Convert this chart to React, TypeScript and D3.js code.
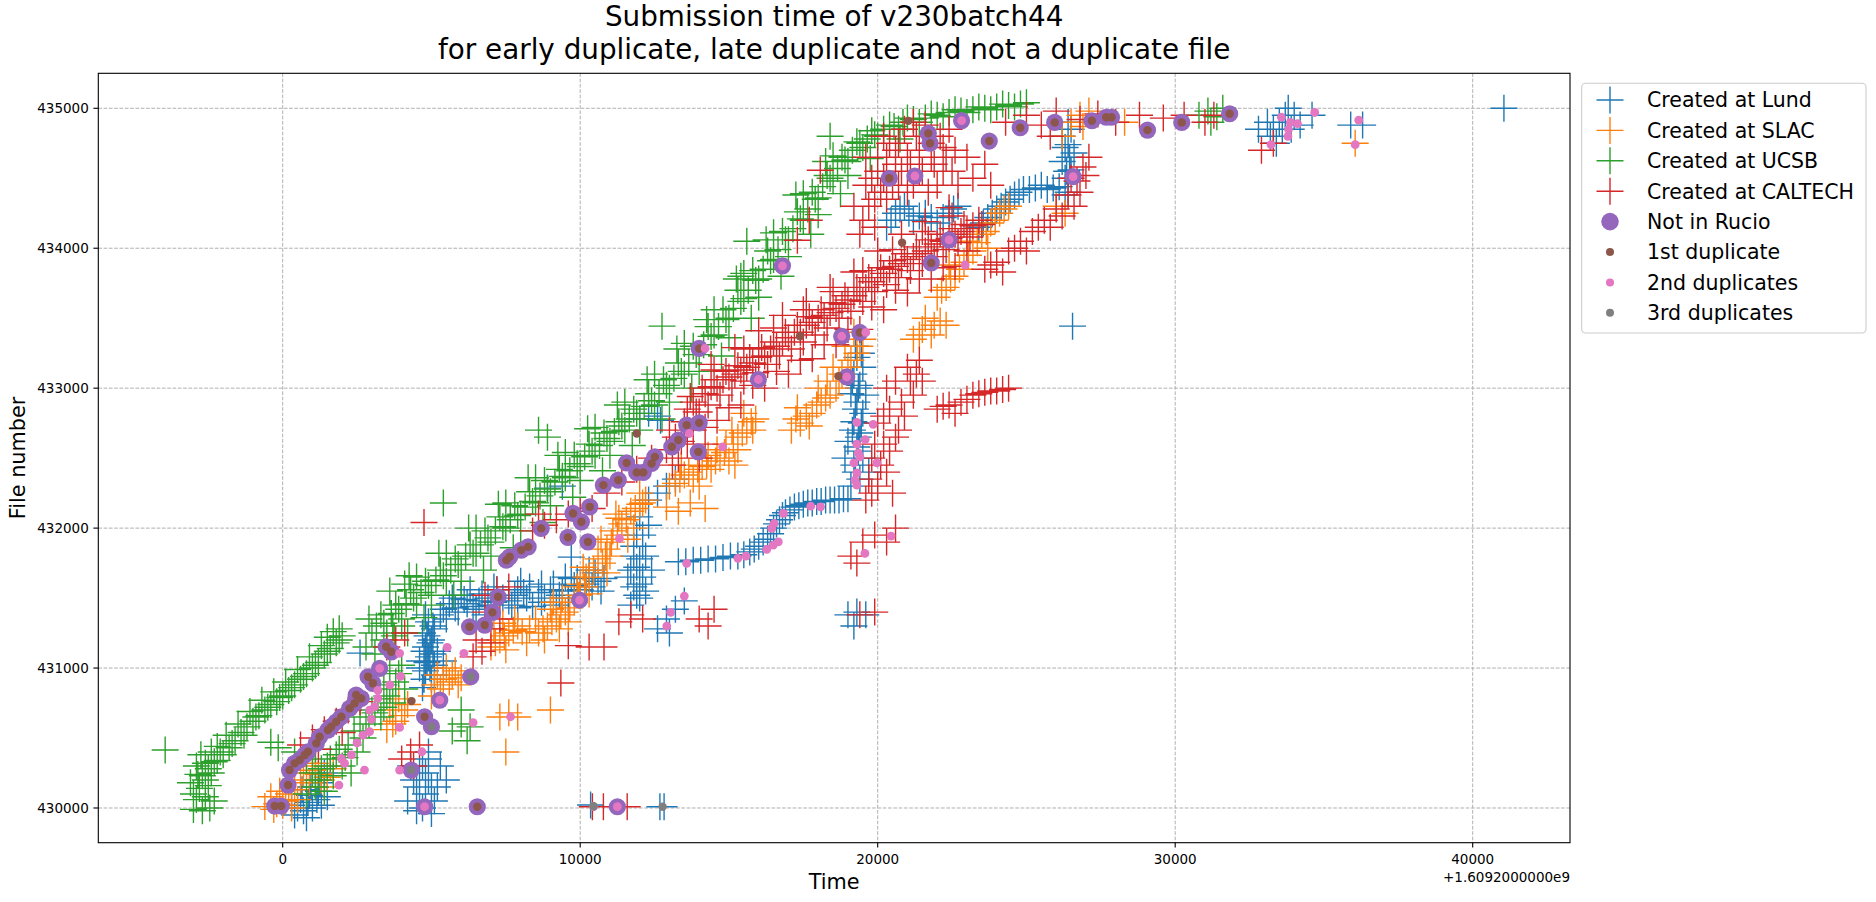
import React from 'react';
import * as d3 from 'd3';

type Pt = [number, number];

// time is seconds after 1.6092e9, second value is the file number
const lundPts: Pt[] = [
  [400, 429950], [700, 429980], [1000, 430000], [1300, 430020], [600, 430060], [900, 430090], [1200, 430120],
  [1500, 430080], [1100, 430200], [1400, 430250], [800, 429930], [300, 430020],
  [500, 430000], [850, 430040], [1150, 430060], [650, 430130], [950, 430150], [1250, 430180],
  [4200, 430050], [4500, 430150], [4300, 430300], [4600, 430250], [4900, 430200], [4800, 430100], [5100, 430050],
  [4700, 430000], [5000, 429960], [4400, 430200], [5300, 430300], [4900, 430350], [5500, 430200],
  [4600, 430050], [4800, 430250], [5000, 430150], [4700, 430300], [5200, 430150], [4500, 429980], [4900, 430400],
  [4700, 430860], [5000, 430920], [4800, 430980], [5100, 431020], [4600, 431050], [4900, 431080], [5200, 431120],
  [4800, 431150], [5000, 431200], [4700, 431250], [5100, 431280], [4900, 431330], [5300, 431380], [4600, 431000],
  [5400, 431050],
  [4750, 430920], [4950, 431000], [4850, 431040], [5050, 431100], [4750, 431120], [4950, 431180], [4850, 431230],
  [5050, 431300], [4800, 431380], [5100, 430950],
  [5400, 431420], [5800, 431430], [6200, 431460], [6600, 431480], [7000, 431450], [7400, 431500], [7800, 431520],
  [8200, 431500], [8600, 431540], [9000, 431560], [9400, 431550], [9800, 431590], [10200, 431600], [10600, 431620],
  [6000, 431520], [7200, 431560], [8400, 431440], [9600, 431500],
  [5600, 431460], [5900, 431400], [6100, 431490], [6400, 431440], [6700, 431530], [6900, 431500], [7100, 431470],
  [7600, 431480], [7900, 431560], [8100, 431540], [8300, 431580], [8800, 431500], [9100, 431600], [9300, 431520],
  [9700, 431640], [10000, 431560], [10400, 431580], [10800, 431640], [10500, 431680], [5700, 431500], [6500, 431420],
  [7700, 431450], [8700, 431600], [9900, 431640],
  [5500, 431350], [6300, 431560], [7100, 431580], [7900, 431430], [8700, 431470], [9500, 431650], [10300, 431700],
  [10700, 431550], [6800, 431380], [8000, 431620], [9200, 431450],
  [11700, 431450], [12000, 431500], [11800, 431580], [12100, 431650], [11900, 431720], [12200, 431800], [11800, 431870],
  [12100, 431950], [12300, 432020], [11600, 431650], [12400, 431700],
  [11900, 431520], [12000, 431600], [11700, 431700], [12000, 431780], [12100, 431870], [11900, 431950], [12200, 431550],
  [11800, 431800], [12000, 432080],
  [12300, 432200], [12600, 432250], [12900, 432300], [13200, 432350],
  [12000, 432780], [12300, 432820], [12600, 432800],
  [12600, 431280], [12900, 431350], [13200, 431420], [13500, 431480], [13000, 431250],
  [13300, 431760], [13800, 431770], [14300, 431780], [14800, 431790], [15300, 431800],
  [13550, 431760], [14050, 431770], [14550, 431780], [15050, 431800], [15500, 431810],
  [15700, 431830], [16000, 431870], [16300, 431920], [16500, 432000], [16700, 432060], [16900, 432110], [17200, 432150],
  [17500, 432170], [17800, 432180], [18100, 432190], [18400, 432200], [18700, 432200], [19000, 432210],
  [15850, 431850], [16150, 431900], [16400, 431960], [16600, 432030], [16800, 432090], [17050, 432130], [17350, 432160],
  [17650, 432180], [17950, 432190], [18250, 432200], [18550, 432200], [18850, 432210],
  [19100, 432300], [19400, 432350], [19200, 432450], [19500, 432500], [19300, 432580], [19000, 432620], [19400, 432680],
  [19200, 432760], [19500, 432820], [19300, 432900], [19100, 432960], [19400, 433020], [19200, 433100], [19500, 433150],
  [19300, 433220], [18900, 432500], [19700, 432400], [19600, 432950],
  [19250, 432400], [19350, 432550], [19150, 432700], [19450, 432750], [19250, 432850], [19350, 433000], [19150, 433050],
  [19450, 433250], [19250, 433300], [19350, 432650],
  [19000, 431380], [19300, 431400], [19600, 431380], [19200, 431300],
  [20300, 434150], [20600, 434250], [20900, 434300], [21200, 434200], [21600, 434250], [22000, 434180], [22400, 434250],
  [22700, 434300],
  [20450, 434200], [20750, 434280], [21050, 434250], [21400, 434230], [21800, 434220], [22200, 434220], [22550, 434280],
  [23400, 434150], [23700, 434220], [24000, 434280], [24300, 434330], [24600, 434380], [24900, 434420], [25300, 434430],
  [25700, 434420], [26100, 434440], [26400, 434400],
  [23550, 434180], [23850, 434250], [24150, 434300], [24450, 434350], [24750, 434400], [25100, 434420], [25500, 434450],
  [25900, 434430],
  [26300, 434500], [26500, 434560], [26200, 434620], [26600, 434680], [26400, 434740], [26200, 434800], [26500, 434850],
  [26350, 434550], [26450, 434650], [26300, 434720], [26400, 434900], [26300, 434380],
  [32800, 434850], [33200, 434800], [33500, 434900], [33700, 434950], [33900, 434850], [34200, 434880], [33400, 434750],
  [34600, 434950], [33800, 435000], [35900, 434880], [36300, 434880], [41050, 435000],
  [33300, 434850], [33600, 434850], [34000, 434950], [33100, 434900],
  [26550, 433443], [2600, 431107], [9700, 431793], [9400, 432300], [12700, 432771], [8900, 432286],
  [10350, 430021], [12680, 430009], [12820, 430009],
];

const slacPts: Pt[] = [
  [-600, 430010], [-300, 429990], [0, 430020], [300, 430000], [-400, 430080], [200, 430100], [500, 430060], [-100, 430120],
  [100, 430050], [-200, 430030], [400, 430130], [700, 430250], [1000, 430270], [1300, 430200], [1600, 430300],
  [600, 430200], [900, 430180], [1200, 430240], [800, 430300], [1500, 430220], [1100, 430320], [1700, 430280], [1400, 430150],
  [3500, 430560], [3800, 430620], [3600, 430700], [4000, 430660], [4200, 430740], [3900, 430780],
  [3700, 430600], [4100, 430700], [3800, 430700],
  [5000, 430800], [5300, 430850], [5600, 430900], [5200, 430950], [5800, 430980], [5500, 431000], [6000, 430930],
  [5100, 430880], [5400, 430920], [5700, 430950], [5900, 430880],
  [7000, 431150], [7300, 431200], [7600, 431250], [7400, 431320], [7900, 431300],
  [8600, 431250], [8900, 431300], [9200, 431350], [9000, 431420], [9500, 431400], [9800, 431470], [9400, 431500],
  [10000, 431600], [10300, 431650], [10100, 431720], [10600, 431780], [10900, 431850], [10700, 431920], [11100, 431980],
  [11400, 432030], [11200, 432100], [11700, 432120], [12000, 432170], [12200, 432200],
  [7150, 431180], [7450, 431230], [7750, 431270], [8050, 431260], [8300, 431280], [8750, 431280], [9050, 431330],
  [9350, 431380], [9650, 431430], [9950, 431520], [10150, 431580], [10450, 431700], [10750, 431750], [10850, 431800],
  [11050, 431900], [11250, 431950], [11550, 432060], [11850, 432140], [12100, 432180], [9300, 431280], [10200, 431650],
  [11000, 431800],
  [7100, 431280], [7500, 431130], [7800, 431350], [8200, 431180], [8500, 431350], [8800, 431200], [9100, 431470],
  [9600, 431330], [9900, 431580], [10300, 431530], [10600, 431850], [10900, 431680], [11300, 432070], [11600, 431920],
  [12000, 432250], [11800, 432000],
  [12900, 432150], [13300, 432120], [13700, 432180], [14200, 432140],
  [13200, 432320], [13500, 432380], [13800, 432350], [14100, 432440], [14400, 432420], [14700, 432500], [15000, 432480],
  [15300, 432560], [14900, 432600], [15300, 432650], [15600, 432700], [15900, 432780], [15500, 432820],
  [13350, 432350], [13650, 432400], [13950, 432420], [14250, 432450], [14550, 432480], [14850, 432540], [15150, 432600],
  [15450, 432680], [15750, 432760], [15100, 432700], [13000, 432300],
  [13400, 432450], [14000, 432300], [14600, 432560], [15200, 432450], [15800, 432700], [14300, 432520],
  [17100, 432700], [17400, 432750], [17800, 432820], [17300, 432860], [18100, 432900], [18400, 432950], [18000, 433000],
  [18700, 433050], [18500, 433150], [19000, 433150], [19300, 433250], [18900, 433300], [19500, 433350], [19200, 433400],
  [17250, 432780], [17600, 432800], [17950, 432880], [18250, 432930], [18600, 433000], [18800, 433100], [19100, 433200],
  [19400, 433300], [18300, 433050], [17700, 432730],
  [21200, 433350], [21500, 433420], [21800, 433380], [22100, 433480], [21600, 433500], [22300, 433450],
  [21400, 433380], [21900, 433450],
  [22000, 433650], [22300, 433720], [22600, 433800], [22400, 433880], [22900, 433900], [23200, 433980], [23000, 434050],
  [23500, 434100], [23800, 434180], [24100, 434250], [24400, 434300], [23700, 434000],
  [22150, 433700], [22450, 433780], [22750, 433850], [23050, 433950], [23350, 434040], [23650, 434120], [23950, 434200],
  [24250, 434280],
  [26000, 434300], [26300, 434250], [26200, 434800], [26500, 434900], [26800, 434950], [27100, 434980], [26900, 434870],
  [28300, 434900],
  [36050, 434750], [7300, 430650], [7600, 430680], [7900, 430650], [7500, 430400], [9000, 430700],
];

const ucsbPts: Pt[] = [
  [-3000, 429990], [-2700, 429980], [-2450, 430000], [-2900, 430060], [-2600, 430080], [-2300, 430050], [-2800, 430140],
  [-2500, 430160], [-3100, 430180], [-2700, 430230], [-2400, 430250], [-2900, 430300], [-2600, 430320], [-2200, 430340],
  [-2750, 430380], [-2400, 430400],
  [-2500, 430280], [-3000, 430100], [-2600, 430200], [-2850, 430240],
  [-2300, 430330], [-2000, 430380], [-2200, 430440], [-1800, 430430], [-1600, 430480], [-1900, 430520], [-1400, 430540],
  [-1200, 430580], [-1500, 430600], [-1000, 430620], [-800, 430660], [-1100, 430690], [-600, 430700], [-400, 430740],
  [-700, 430770], [-200, 430760], [0, 430800], [-300, 430830], [200, 430840], [400, 430880], [100, 430900], [600, 430920],
  [800, 430960], [500, 430990], [1000, 431000], [1200, 431040], [900, 431080], [1400, 431100], [1600, 431140],
  [1300, 431160], [1800, 431180], [1500, 431220], [2000, 431230], [1700, 431260], [1900, 431280],
  [-2100, 430400], [-1700, 430460], [-1300, 430520], [-900, 430650], [-500, 430720], [-100, 430790], [300, 430860],
  [700, 430940], [1100, 431020], [1500, 431120], [1900, 431200],
  [800, 430100], [1100, 430150], [1400, 430120], [1000, 430250], [1300, 430280], [1700, 430230], [1600, 430350],
  [2000, 430300], [2300, 430250], [1900, 430420], [2200, 430450], [2500, 430400], [2400, 430550], [2700, 430500],
  [2900, 430600], [2600, 430650], [3000, 430700], [3300, 430650], [3200, 430780], [3500, 430800], [3700, 430750],
  [3400, 430880], [3800, 430900], [4100, 430850], [3600, 430980], [4000, 431020],
  [1200, 430200], [1500, 430300], [1800, 430380], [2100, 430360], [2600, 430550], [2800, 430600], [3100, 430680],
  [3400, 430720], [3600, 430850], [3900, 430960],
  [400, 430400], [800, 430350], [1100, 430420], [-150, 430430], [-400, 430470],
  [5700, 430550], [6000, 430600], [6300, 430580], [6000, 430700], [6200, 430480],
  [2800, 431150], [3100, 431100], [3400, 431200], [3700, 431300], [4200, 431250], [2900, 431350], [3600, 431550],
  [4100, 431600],
  [3000, 431250], [3300, 431380], [3500, 431250], [3800, 431450], [4000, 431350], [4300, 431560], [4500, 431450],
  [4800, 431620], [5000, 431520], [5300, 431700], [5500, 431620], [5800, 431780], [6000, 431700], [6300, 431880],
  [6500, 431820], [6800, 431980], [7000, 431900], [7300, 432080], [7500, 432000], [7800, 432160], [8000, 432100],
  [8300, 432260], [8500, 432180], [8800, 432340], [9000, 432260], [9300, 432420], [9500, 432360], [9800, 432520],
  [10000, 432440], [10300, 432600], [10500, 432520], [10800, 432680], [11000, 432620], [11300, 432760], [11500, 432700],
  [11800, 432850], [12000, 432780], [12300, 432960], [12500, 432880], [12800, 433060], [13000, 433000], [13300, 433180],
  [13500, 433100], [13800, 433300], [14000, 433240], [14300, 433440], [14500, 433380], [14800, 433560], [15000, 433500],
  [15300, 433700], [15500, 433640], [15800, 433840], [16000, 433780], [16300, 433980], [16500, 433920], [16800, 434120],
  [17000, 434060], [17300, 434260], [17500, 434200], [17800, 434400], [18000, 434360], [18300, 434520], [18500, 434480],
  [18800, 434650], [19000, 434620], [19300, 434760], [19500, 434720], [19800, 434840], [20000, 434800], [20400, 434880],
  [20700, 434850], [21000, 434930], [21400, 434900], [21800, 434960], [22200, 434940], [22600, 434990], [23000, 434970],
  [23400, 435010], [23800, 434990], [24200, 435030], [24600, 435010], [25000, 435040],
  [3150, 431300], [3400, 431320], [3650, 431390], [3900, 431420], [4150, 431460], [4400, 431500], [4650, 431540],
  [4900, 431590], [5150, 431630], [5400, 431660], [5650, 431700], [5900, 431740], [6150, 431800], [6400, 431820],
  [6650, 431880], [6900, 431930], [7150, 431980], [7400, 432010], [7650, 432060], [7900, 432090], [8150, 432150],
  [8400, 432190], [8650, 432230], [8900, 432280], [9150, 432330], [9400, 432370], [9650, 432410], [9900, 432460],
  [10150, 432510], [10400, 432550], [10650, 432590], [10900, 432640], [11150, 432690], [11400, 432730], [11650, 432780],
  [11900, 432820], [12150, 432870], [12400, 432910], [12650, 432960], [12900, 433020], [13150, 433070], [13400, 433120],
  [13650, 433180], [13900, 433240], [14150, 433310], [14400, 433370], [14650, 433440], [14900, 433490], [15150, 433570],
  [15400, 433620], [15650, 433700], [15900, 433770], [16150, 433850], [16400, 433910], [16650, 433990], [16900, 434060],
  [17150, 434140], [17400, 434210], [17650, 434280], [17900, 434350], [18150, 434440], [18400, 434500], [18650, 434570],
  [18900, 434630], [19150, 434700], [19400, 434750], [19650, 434780], [19900, 434810], [20200, 434850], [20550, 434870],
  [20850, 434900], [21200, 434920], [21600, 434930], [22000, 434950], [22400, 434970], [22800, 434980], [23200, 434990],
  [23600, 435000], [24000, 435010], [24400, 435020], [24800, 435030],
  [4000, 431300], [5000, 431450], [6000, 431620], [7000, 431800], [8000, 431980], [9000, 432160], [10000, 432340],
  [11000, 432520], [12000, 432700], [13000, 432900], [14000, 433120], [15000, 433360], [16000, 433650], [17000, 433940],
  [18000, 434240], [19000, 434520],
  [4500, 431650], [5500, 431820], [6500, 432000], [7500, 432180], [8500, 432360], [9500, 432540], [10500, 432720],
  [11500, 432900], [12500, 433100], [13500, 433320], [14500, 433560], [15500, 433820], [16500, 434110], [17500, 434390],
  [18500, 434660],
  [4250, 431660], [5250, 431820], [6250, 432000], [7250, 432170], [8250, 432360], [9250, 432520], [10250, 432710],
  [11250, 432880], [12250, 433060], [13250, 433280], [14250, 433490], [15250, 433780], [16250, 434060], [17250, 434380],
  [18250, 434620],
  [3750, 431230], [4750, 431360], [5750, 431520], [6750, 431700], [7750, 431860], [8750, 432040], [9750, 432220],
  [10750, 432410], [11750, 432590], [12750, 432780], [13750, 433000], [14750, 433230], [15750, 433500], [16750, 433800],
  [17750, 434100], [18750, 434390], [19750, 434640], [20750, 434780],
  [-3950, 430414], [5400, 432179], [8600, 432700], [8900, 432650], [12750, 433443], [15400, 433800], [15600, 434050],
  [18400, 434800],
  [30800, 434950], [31100, 434980], [31400, 434940], [31200, 434900], [31600, 435000],
];

const caltechPts: Pt[] = [
  [600, 430450], [1000, 430500], [1400, 430560], [1800, 430620], [2200, 430700], [2600, 430760], [1200, 430420],
  [2000, 430540],
  [4000, 430350], [4300, 430400], [4600, 430450], [4400, 430300],
  [3500, 431150], [3800, 431200], [4100, 431250],
  [6400, 431080], [6700, 431120], [7000, 431180], [6500, 431200], [7000, 431280], [7300, 431350], [6800, 431400],
  [6800, 431520], [7200, 431560], [7600, 431580],
  [8400, 431980], [8800, 432020], [9200, 432060], [9600, 432100], [10000, 432120], [10400, 432140], [8600, 432100],
  [9350, 430893], [9600, 431160], [10300, 431150], [10800, 431150], [10410, 430009], [10780, 430009], [11580, 430009],
  [4750, 432040], [11300, 431330], [11700, 431380], [12100, 431350], [14000, 431350], [14500, 431420], [14300, 431300],
  [10900, 432250], [11400, 432330], [11900, 432420], [12400, 432500], [12900, 432560], [13400, 432620], [13800, 432700],
  [13300, 432500], [14200, 432600],
  [13000, 432700], [13200, 432650], [13600, 432600], [14000, 432500], [13100, 432450],
  [13500, 432760], [13700, 432940], [13900, 432830], [14100, 433000], [14300, 432880], [14500, 433060], [14700, 432950],
  [14900, 433120], [15100, 433000], [15300, 433160], [15500, 433050], [15700, 433220], [15900, 433110], [16100, 433290],
  [16300, 433170], [16500, 433330], [16700, 433230], [16900, 433400], [17100, 433280], [17300, 433450], [17500, 433330],
  [17700, 433510], [17900, 433380], [18100, 433560], [18300, 433430], [18500, 433610], [18700, 433500], [18900, 433660],
  [19100, 433550], [19300, 433720], [19500, 433620], [19700, 433790], [19900, 433690], [20100, 433860], [20300, 433740],
  [20500, 433910], [20700, 433790], [20900, 433960], [21100, 433840], [21300, 434010], [21500, 433890], [21700, 434060],
  [21900, 433940], [22100, 434100], [22300, 433990], [22500, 434140], [22700, 434040], [22900, 434170], [23100, 434080],
  [23400, 434200],
  [13600, 432850], [13800, 432900], [14000, 432830], [14200, 432960], [14400, 433010], [14600, 433000], [14800, 433060],
  [15000, 433080], [15200, 433100], [15400, 433130], [15600, 433150], [15800, 433180], [16000, 433220], [16200, 433230],
  [16400, 433280], [16600, 433300], [16800, 433330], [17000, 433360], [17200, 433400], [17400, 433400], [17600, 433450],
  [17800, 433470], [18000, 433500], [18200, 433520], [18400, 433540], [18600, 433570], [18800, 433600], [19000, 433630],
  [19200, 433660], [19400, 433690], [19600, 433720], [19800, 433760], [20000, 433790], [20200, 433820], [20400, 433850],
  [20600, 433870], [20800, 433890], [21000, 433920], [21200, 433940], [21400, 433960], [21600, 433980], [21800, 434010],
  [22000, 434030], [22200, 434050], [22400, 434070], [22600, 434100], [22800, 434120], [23000, 434140], [23200, 434160],
  [23500, 434170],
  [14500, 433130], [15500, 433280], [16500, 433430], [17500, 433560], [18500, 433690], [19500, 433840], [20500, 433990],
  [21500, 434120], [22500, 434230],
  [14200, 432720], [15000, 432860], [15800, 433020], [16600, 433120], [17400, 433200], [18200, 433310], [19000, 433420],
  [19800, 433580], [20600, 433700], [21400, 433780], [22200, 433860], [23000, 433980],
  [14400, 433170], [15200, 433290], [16000, 433410], [16800, 433520], [17600, 433620], [18400, 433720], [19200, 433830],
  [20000, 433980], [20800, 434100], [21600, 434190], [22400, 434290],
  [14600, 432770], [15400, 432880], [16200, 433000], [17000, 433100], [17800, 433210], [18600, 433310], [19400, 433420],
  [20200, 433560], [21000, 433680], [21800, 433780], [22600, 433870],
  [19500, 434200], [19900, 434350], [20200, 434500], [20600, 434600], [21000, 434650], [21400, 434700], [21800, 434650],
  [22200, 434720], [20000, 434650], [20400, 434750], [19800, 434500], [21200, 434450], [22000, 434450], [22500, 434550],
  [20900, 434850], [21600, 434880], [23200, 434500], [23600, 434600], [23800, 434450],
  [19700, 434300], [20100, 434400], [20500, 434450], [20800, 434550], [21100, 434600], [21500, 434550], [21900, 434600],
  [22300, 434650], [20300, 434650], [20700, 434750], [21300, 434800], [22100, 434800], [19400, 434100], [19900, 434150],
  [20700, 434450], [22700, 434450], [23000, 434650], [21700, 434400],
  [19200, 434300], [19600, 434450], [20000, 434550], [20300, 434350], [20600, 434700], [21000, 434400], [21400, 434550],
  [21800, 434750], [22200, 434550], [22600, 434700], [19600, 434650], [20200, 434800], [21200, 434900], [22400, 434850],
  [18070, 434557], [17300, 434057], [17700, 434200],
  [24300, 434900], [25000, 434950], [25500, 434880], [26000, 434980], [26800, 434920], [27400, 434960], [28000, 434900],
  [28800, 434950], [29600, 434930], [30300, 434950], [31000, 434900], [31300, 434950], [25800, 434800],
  [32900, 434700], [33300, 434750],
  [23600, 433850], [24000, 433900], [24400, 433980], [24800, 434050], [25200, 434120], [25600, 434200], [26000, 434280],
  [26400, 434380], [26700, 434480], [26900, 434580], [27100, 434650], [24200, 433830], [25000, 433980], [25800, 434150],
  [26600, 434300],
  [23800, 433880], [24600, 434000], [25400, 434150], [26200, 434230], [26800, 434400], [27000, 434520], [26500, 434500],
  [22000, 432850], [22400, 432880], [22800, 432900], [23200, 432950], [23600, 432970], [24000, 432980], [24400, 433000],
  [22600, 432820], [22200, 432870], [23000, 432920], [23400, 432960], [23800, 432980], [24200, 432990],
  [19600, 432200], [20000, 432300], [20300, 432400], [19800, 432500], [20200, 432600], [20600, 432650], [20000, 432750],
  [20400, 432850], [20800, 432900], [21200, 432950], [20600, 433050], [21000, 433150], [21400, 433200], [19700, 432350],
  [20500, 432250], [21500, 433050],
  [19800, 432250], [20100, 432450], [20400, 432550], [20700, 432700], [20200, 432800], [20900, 432800], [21100, 433050],
  [20300, 433000], [19900, 432600], [21300, 433100],
  [19100, 431800], [19500, 431900], [19900, 431950], [20300, 431900], [19300, 431750], [20600, 432000],
  [19400, 431380], [19900, 431400],
];

const notInRucio: Pt[] = [
  [-270, 430014], [-50, 430014], [180, 430164], [230, 430271], [400, 430319], [570, 430343], [740, 430379], [850, 430402],
  [1130, 430462], [1240, 430509], [1520, 430557], [1630, 430581], [1800, 430616], [1970, 430652], [2250, 430712],
  [2420, 430748], [2470, 430807], [2640, 430783], [2870, 430938], [3030, 430891], [3260, 430998], [3480, 431152],
  [3650, 431116], [4320, 430271], [4770, 430652], [5000, 430581], [5280, 430771], [4770, 430009], [6540, 430009],
  [6320, 430938], [6280, 431295], [6790, 431307], [7050, 431398], [7240, 431509], [7520, 431771], [7630, 431795],
  [8020, 431843], [8250, 431866], [8690, 431998], [9590, 431934], [9760, 432105], [10040, 432045], [10320, 432152],
  [10260, 431902], [9980, 431486], [10780, 432307], [11280, 432343], [11560, 432466], [11900, 432398], [12120, 432398],
  [12400, 432462], [12510, 432509], [13080, 432581], [13300, 432629], [13580, 432736], [14000, 432752], [13970, 432545],
  [14000, 433284], [15990, 433062], [18790, 433371], [19400, 433398], [18960, 433080], [16800, 433874], [20390, 434500],
  [21250, 434516], [21700, 434821], [21760, 434750], [22820, 434912], [23750, 434766], [22400, 434060], [21800, 433895],
  [24790, 434861], [25950, 434899], [27200, 434911], [27680, 434936], [27860, 434936], [29070, 434844], [30220, 434899],
  [31830, 434961], [26570, 434511], [11250, 430009],
];

const firstDup: Pt[] = [
  [-270, 430014], [-50, 430014], [180, 430164], [230, 430271], [400, 430319], [570, 430343], [740, 430379], [850, 430402],
  [1130, 430462], [1240, 430509], [1520, 430557], [1630, 430581], [1800, 430616], [1970, 430652], [2250, 430712],
  [2420, 430748], [2470, 430807], [2640, 430783], [2870, 430938], [3030, 430891], [3480, 431152], [3650, 431116],
  [4770, 430652], [6540, 430009], [6280, 431295], [6790, 431307], [7050, 431398], [7240, 431509], [7520, 431771],
  [7630, 431795], [8020, 431843], [8250, 431866], [8690, 431998], [9590, 431934], [9760, 432105], [10040, 432045],
  [10320, 432152], [10260, 431902], [10780, 432307], [11280, 432343], [11560, 432466], [11900, 432398], [12120, 432398],
  [12400, 432462], [12510, 432509], [13080, 432581], [13300, 432629], [13580, 432736], [14000, 432752], [13970, 432545],
  [14000, 433284], [19400, 433398], [20390, 434500], [21700, 434821], [21760, 434750], [23750, 434766], [21800, 433895],
  [24790, 434861], [25950, 434899], [27200, 434911], [27680, 434936], [27860, 434936], [29070, 434844], [30220, 434899],
  [31830, 434961],
  [4330, 430764], [11900, 432676], [17390, 433371], [18680, 433086], [21030, 434910], [20820, 434040],
];

const secondDup: Pt[] = [
  [3260, 430998], [5280, 430771], [4770, 430009], [9980, 431486], [15990, 433062], [18790, 433371], [18960, 433080],
  [16800, 433874], [21250, 434516], [22820, 434912], [22400, 434060], [26570, 434511], [11250, 430009],
  [14200, 433284], [19600, 433398],
  [3930, 431105], [3960, 430940], [3600, 430880], [3200, 430840], [3200, 430783], [3090, 430724], [2920, 430700],
  [2980, 430634], [2920, 430545], [2700, 430520], [2500, 430466], [2310, 430379], [1970, 430355], [2080, 430319],
  [2750, 430271], [1890, 430164], [3930, 430271], [3930, 430576], [4680, 430402], [5530, 431148], [6090, 431105],
  [6400, 430610], [7660, 430652], [11320, 431926], [14790, 432581], [13670, 432676], [13580, 431748], [15300, 431784],
  [15570, 431800], [16270, 431848], [16490, 431879], [16660, 431902], [16440, 431998], [16520, 432033], [16830, 432105],
  [17750, 432157], [18080, 432152], [13500, 431514], [13040, 431398], [12910, 431300], [19300, 432755], [19850, 432741],
  [19300, 432600], [19580, 432633], [19350, 432538], [19400, 432509], [19200, 432466], [19970, 432466], [19300, 432395],
  [19240, 432343], [19300, 432307], [19570, 431819], [20450, 431943], [22940, 433880], [33570, 434936], [33870, 434899],
  [34110, 434891], [33810, 434849], [33790, 434799], [33220, 434741], [34690, 434970], [36170, 434915], [36050, 434740],
  [10450, 430009],
];

const thirdDup: Pt[] = [
  [4320, 430271], [5000, 430581], [6320, 430938], [10450, 430012], [12770, 430009],
];

const xTicks = [0, 10000, 20000, 30000, 40000];
const yTicks = [430000, 431000, 432000, 433000, 434000, 435000];
const xOffsetLabel = '+1.6092000000e9';
const titleLines = ['Submission time of v230batch44', 'for early duplicate, late duplicate and not a duplicate file'];
const legendLabels = [
  'Created at Lund', 'Created at SLAC', 'Created at UCSB', 'Created at CALTECH',
  'Not in Rucio', '1st duplicate', '2nd duplicates', '3rd duplicates',
];

const W = 1876;
const H = 902;
const box = { left: 98.3, right: 1570, top: 73.3, bottom: 842.7 };
const ARM = 13.5;
const FONT = 'DejaVu Sans, sans-serif';

const crossSeries = [
  { pts: lundPts, color: '#1f77b4' },
  { pts: slacPts, color: '#ff7f0e' },
  { pts: ucsbPts, color: '#2ca02c' },
  { pts: caltechPts, color: '#d62728' },
];
const dotSeries = [
  { pts: notInRucio, color: '#9467bd', r: 8.6 },
  { pts: firstDup, color: '#8c564b', r: 4.2 },
  { pts: secondDup, color: '#e377c2', r: 4.4 },
  { pts: thirdDup, color: '#7f7f7f', r: 4.2 },
];

export default function App() {
  const x = d3.scaleLinear().domain([-6198, 43271]).range([box.left, box.right]);
  const y = d3.scaleLinear().domain([429752, 435250]).range([box.bottom, box.top]);

  const crossD = (pts: Pt[]) =>
    pts
      .map(([t, f]) => {
        const cx = x(t);
        const cy = y(f);
        return `M${cx - ARM},${cy}H${cx + ARM}M${cx},${cy - ARM}V${cy + ARM}`;
      })
      .join('');

  const cxMid = (box.left + box.right) / 2;
  const cyMid = (box.top + box.bottom) / 2;

  const legX = 1581.7;
  const legY = 83.3;
  const rowY = (i: number) => 100 + i * 30.4;
  const legendColors = [...crossSeries.map((s) => s.color), ...dotSeries.map((s) => s.color)];

  return (
    <svg width={W} height={H} style={{ position: 'absolute', left: 0, top: 0, background: '#fff' }} fontFamily={FONT}>
      <defs>
        <clipPath id="plotClip">
          <rect x={box.left} y={box.top} width={box.right - box.left} height={box.bottom - box.top} />
        </clipPath>
      </defs>
      <rect x={0} y={0} width={W} height={H} fill="#fff" />

      {/* grid */}
      <g stroke="#b0b0b0" strokeWidth={1} strokeDasharray="3.7,1.6">
        {xTicks.map((t) => (
          <line key={'gx' + t} x1={x(t)} x2={x(t)} y1={box.top} y2={box.bottom} />
        ))}
        {yTicks.map((f) => (
          <line key={'gy' + f} x1={box.left} x2={box.right} y1={y(f)} y2={y(f)} />
        ))}
      </g>

      <g clipPath="url(#plotClip)">
        {crossSeries.map((s, i) => (
          <path key={'c' + i} d={crossD(s.pts)} stroke={s.color} strokeWidth={1.4} fill="none" />
        ))}
        {dotSeries.map((s, i) => (
          <g key={'d' + i} fill={s.color}>
            {s.pts.map(([t, f], j) => (
              <circle key={j} cx={x(t)} cy={y(f)} r={s.r} />
            ))}
          </g>
        ))}
      </g>

      {/* frame */}
      <rect x={box.left} y={box.top} width={box.right - box.left} height={box.bottom - box.top}
        fill="none" stroke="#000" strokeWidth={1.1} />

      {/* x axis */}
      <g fontSize={13.5} fill="#000" textAnchor="middle">
        {xTicks.map((t) => (
          <g key={'tx' + t}>
            <line x1={x(t)} x2={x(t)} y1={box.bottom} y2={box.bottom + 4.9} stroke="#000" strokeWidth={1.1} />
            <text x={x(t)} y={864}>{d3.format('d')(t)}</text>
          </g>
        ))}
      </g>
      <text x={box.right} y={882} fontSize={13.5} textAnchor="end">{xOffsetLabel}</text>

      {/* y axis */}
      <g fontSize={13.5} fill="#000" textAnchor="end">
        {yTicks.map((f) => (
          <g key={'ty' + f}>
            <line x1={box.left - 4.9} x2={box.left} y1={y(f)} y2={y(f)} stroke="#000" strokeWidth={1.1} />
            <text x={box.left - 9.5} y={y(f) + 5}>{f}</text>
          </g>
        ))}
      </g>

      <text x={cxMid} y={889} fontSize={20.8} textAnchor="middle">Time</text>
      <text transform={`translate(25,${cyMid}) rotate(-90)`} fontSize={20.8} textAnchor="middle">File number</text>

      <g fontSize={27.8} textAnchor="middle">
        <text x={cxMid} y={25.5}>{titleLines[0]}</text>
        <text x={cxMid} y={59}>{titleLines[1]}</text>
      </g>

      {/* legend */}
      <rect x={legX} y={legY} width={1866 - legX} height={333 - legY} rx={4} fill="#fff"
        stroke="#cccccc" strokeWidth={1.1} />
      {legendLabels.map((label, i) => {
        const cy = rowY(i);
        const mx = 1610;
        const color = legendColors[i];
        let marker;
        if (i < 4) {
          marker = (
            <path d={`M${mx - ARM},${cy}H${mx + ARM}M${mx},${cy - ARM}V${cy + ARM}`} stroke={color}
              strokeWidth={1.4} fill="none" />
          );
        } else {
          marker = <circle cx={mx} cy={cy} r={i === 4 ? 8.8 : 4} fill={color} />;
        }
        return (
          <g key={label}>
            {marker}
            <text x={1647} y={cy + 7.3} fontSize={20.5}>{label}</text>
          </g>
        );
      })}
    </svg>
  );
}
